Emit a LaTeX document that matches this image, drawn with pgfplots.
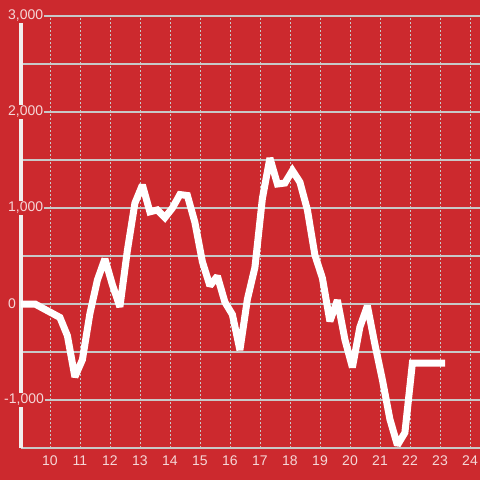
\documentclass[border=0pt]{standalone}
\usepackage{pgfplots}
\pgfplotsset{compat=1.18}
\usepackage{fontspec}
\setmainfont{Liberation Sans}
\definecolor{bgred}{RGB}{204,41,46}
\definecolor{gridgray}{RGB}{200,200,200}
\definecolor{lblcol}{RGB}{245,215,215}
\definecolor{zerocol}{RGB}{242,238,238}
\begin{document}
\begin{tikzpicture}
\fill[bgred] (-21pt,-32pt) rectangle (459pt,448pt);
\begin{axis}[
  at={(0pt,0pt)}, anchor=south west,
  scale only axis, width=459pt, height=432pt,
  xmin=9.0333, xmax=24.3333, ymin=-1500, ymax=3000,
  xtick={10,11,...,24},
  ytick={-1000,1000,2000,3000},
  yticklabels={{\hspace*{-4pt}-1,000},{1,000},{2,000},{3,000}},
  extra y ticks={0}, extra y tick labels={0},
  extra y tick style={grid style={solid, line width=3pt, color=zerocol}},
  minor ytick={-500,500,1500,2500},
  xmajorgrids, ymajorgrids, yminorgrids,
  x grid style={gridgray, line width=1pt, dash pattern=on 2pt off 2pt},
  y grid style={gridgray, line width=1.3pt},
  minor y grid style={gridgray, line width=1.3pt},
  major tick length=0pt, minor tick length=0pt,
  axis x line*=bottom, axis y line*=left,
  x axis line style={gridgray, line width=1.3pt, -},
  y axis line style={zerocol, line width=3.5pt, -},
  /pgf/number format/assume math mode=true,
  tick label style={font=\fontsize{14}{16}\selectfont, text=lblcol},
  yticklabel style={anchor=west, xshift=-14pt, inner sep=1pt, fill=bgred},
  xticklabel style={yshift=-4pt},
  scaled y ticks=false,
]
\addplot[white, line width=7pt, line join=miter, miter limit=2] coordinates {
(9.0333,0) (9.5,0) (10.33,-140) (10.58,-330) (10.83,-760) (11.08,-580)
(11.33,-100) (11.58,250) (11.83,470) (12.08,200) (12.33,-30) (12.58,560)
(12.83,1050) (13.08,1240) (13.33,960) (13.58,980) (13.83,900) (14.08,1000)
(14.33,1140) (14.58,1130) (14.83,850) (15.08,440) (15.33,190) (15.58,290)
(15.83,20) (16.08,-110) (16.33,-480) (16.58,50) (16.83,380) (17.08,1100)
(17.33,1520) (17.58,1250) (17.83,1260) (18.08,1390) (18.33,1270) (18.58,980)
(18.83,510) (19.08,270) (19.33,-180) (19.58,40) (19.83,-370) (20.08,-660)
(20.33,-240) (20.58,-20) (20.83,-420) (21.08,-790) (21.33,-1200) (21.58,-1470)
(21.83,-1340) (22.08,-615) (23.17,-615)
};
\end{axis}
\pgfresetboundingbox
\path (-21pt,-32pt) rectangle (459pt,448pt);
\end{tikzpicture}
\end{document}
